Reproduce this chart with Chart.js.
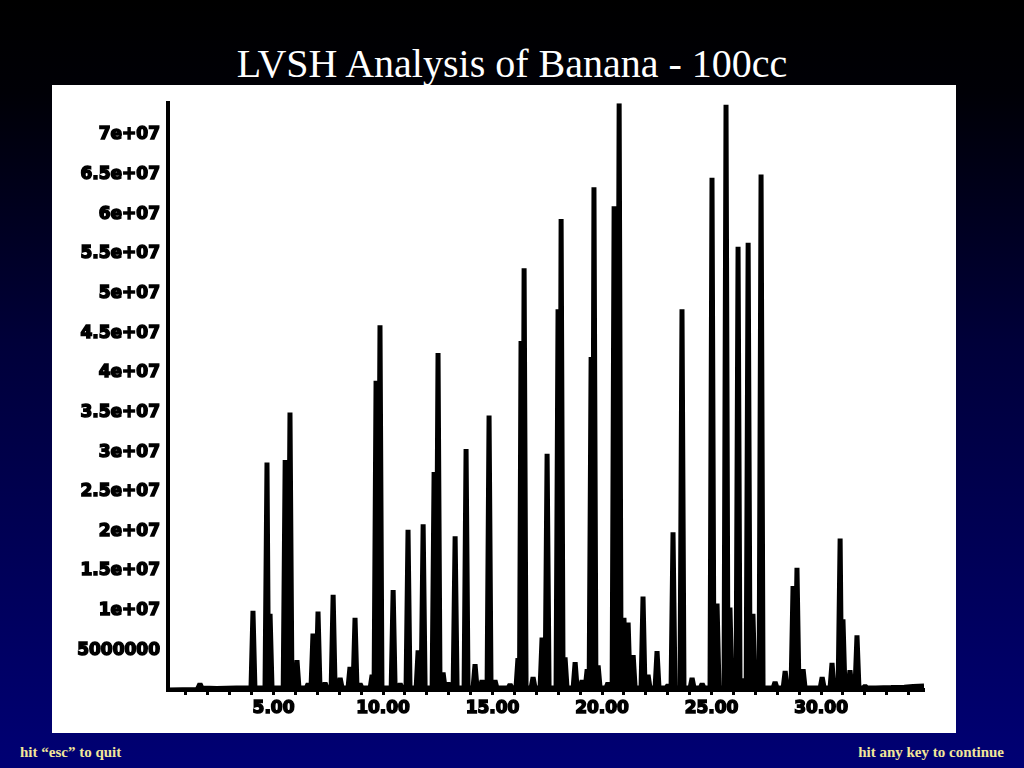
<!DOCTYPE html>
<html>
<head>
<meta charset="utf-8">
<title>LVSH Analysis of Banana - 100cc</title>
<script src="https://cdn.jsdelivr.net/npm/chart.js@4.4.1/dist/chart.umd.min.js"></script>
<style>
  html, body { margin: 0; padding: 0; }
  body {
    width: 1024px; height: 768px; overflow: hidden; position: relative;
    background: linear-gradient(to bottom, #000000 0%, #000006 12%, #00003a 45%, #000074 100%);
    font-family: "Liberation Serif", "Times New Roman", serif;
  }
  #title {
    position: absolute; left: 0; top: 44px; width: 1024px; text-align: center;
    color: #fff; font-size: 40px; line-height: 40px;
  }
  #plot {
    position: absolute; left: 52px; top: 85px; width: 904px; height: 648px; background: #fff;
  }
  .hint {
    position: absolute; top: 745px; font-weight: bold; font-size: 15px; line-height: 15px; color: #f2e79a;
  }
</style>
</head>
<body>
<div id="title">LVSH Analysis of Banana - 100cc</div>
<div id="plot"><canvas id="tic" width="904" height="648"></canvas></div>
<div class="hint" style="left:20px">hit “esc” to quit</div>
<div class="hint" style="right:20px">hit any key to continue</div>

<script>
const peakTimes = [1.64, 4.06, 4.70, 4.84, 5.53, 5.75, 6.07, 6.58, 6.80, 7.03, 7.35, 7.72, 8.04, 8.49, 8.72, 8.95,
  9.50, 9.68, 9.86, 10.46, 10.78, 11.14, 11.60, 11.83, 12.33, 12.51, 12.74, 12.97, 13.29, 13.79, 14.20, 14.52,
  14.84, 15.11, 15.80, 16.16, 16.30, 16.44, 16.85, 17.26, 17.49, 17.99, 18.13, 18.31, 18.77, 19.09, 19.32, 19.50,
  19.63, 19.82, 20.27, 20.55, 20.78, 21.00, 21.19, 21.42, 21.87, 22.10, 22.51, 23.01, 23.24, 23.65, 24.11, 24.57,
  25.02, 25.25, 25.66, 25.84, 26.21, 26.39, 26.67, 26.89, 27.26, 27.90, 28.36, 28.72, 28.90, 29.18, 30.05, 30.50,
  30.87, 31.00, 31.32, 31.64, 32.01];
const peakHeights = [0.8, 10.0, 28.7, 9.6, 29.0, 35.0, 3.75, 0.8, 7.1, 9.9, 0.9, 12.0, 1.5, 2.9, 9.1, 0.8,
  1.9, 39.0, 46.0, 12.6, 0.8, 20.2, 5.0, 20.9, 27.5, 42.5, 2.2, 0.9, 19.4, 30.4, 3.25, 1.2,
  34.6, 1.2, 0.7, 4.0, 44.0, 53.2, 1.6, 6.6, 29.8, 48.0, 59.4, 4.1, 3.5, 1.2, 2.6, 42.0,
  63.4, 3.1, 0.9, 61.0, 74.0, 9.1, 8.5, 4.4, 11.8, 1.9, 4.9, 0.6, 19.9, 48.0, 1.5, 0.8,
  64.6, 10.9, 73.8, 10.4, 55.9, 1.4, 56.4, 9.6, 65.0, 1.0, 2.4, 13.1, 15.4, 2.6, 1.6, 3.4,
  19.1, 8.9, 2.5, 6.9, 0.5];

// Ligne de base (début et dérive en fin de run)
const driftTimes = [0.18, 1.50, 2.40, 3.30, 32.50, 33.20, 33.80, 34.20, 34.70];
const driftLevels = [0.0, 0.05, 0.2, 0.25, 0.25, 0.3, 0.35, 0.45, 0.5];

// Graduations
const minuteTicks = [1, 2, 3, 4, 5, 6, 7, 8, 9, 10, 11, 12, 13, 14, 15, 16, 17, 18, 19, 20, 21, 22, 23, 24, 25,
  26, 27, 28, 29, 30, 31, 32, 33, 34];
const xLabelMinutes = [5, 10, 15, 20, 25, 30];
const xLabels = ['5.00', '10.00', '15.00', '20.00', '25.00', '30.00'];
const yTickValues = [5000000, 10000000, 15000000, 20000000, 25000000, 30000000, 35000000, 40000000,
  45000000, 50000000, 55000000, 60000000, 65000000, 70000000];
const yTickLabels = ['5000000', '1e+07', '1.5e+07', '2e+07', '2.5e+07', '3e+07', '3.5e+07', '4e+07',
  '4.5e+07', '5e+07', '5.5e+07', '6e+07', '6.5e+07', '7e+07'];

const MILLION = 1000000;
const BASE = 0.25;

// Construire la trace : chaque pic = pied, sommet, pied
function buildTrace() {
  const pts = [];
  driftTimes.forEach((t, i) => pts.push({ x: t, y: driftLevels[i] * MILLION }));
  peakTimes.forEach((t, i) => {
    const prev = i > 0 ? peakTimes[i - 1] : t - 1;
    const next = i < peakTimes.length - 1 ? peakTimes[i + 1] : t + 1;
    const wl = Math.min(0.09, (t - prev) / 2);
    const wr = Math.min(0.09, (next - t) / 2);
    pts.push({ x: t - wl, y: BASE * MILLION });
    pts.push({ x: t, y: peakHeights[i] * MILLION });
    pts.push({ x: t + wr, y: BASE * MILLION });
  });
  return pts.sort((a, b) => a.x - b.x);
}

const tickFont = { family: 'DejaVu Sans', weight: 'bold', size: 17 };

window.onload = function () {
  const ctx = document.getElementById('tic').getContext('2d');
  new Chart(ctx, {
    type: 'line',
    data: {
      datasets: [{
        data: buildTrace(),
        borderColor: '#000',
        borderWidth: 5,
        borderJoinStyle: 'bevel',
        pointRadius: 0,
        tension: 0,
        fill: false
      }]
    },
    options: {
      responsive: false,
      animation: false,
      layout: { padding: { top: 13, right: 32, left: 0, bottom: 0 } },
      plugins: { legend: { display: false }, tooltip: { enabled: false } },
      scales: {
        x: {
          type: 'linear',
          min: 0.18,
          max: 34.7,
          afterBuildTicks: s => { s.ticks = minuteTicks.map(v => ({ value: v })); },
          afterFit: s => { s.height = 43; },
          grid: { display: true, drawOnChartArea: false, drawTicks: true, tickLength: 5, tickWidth: 3, color: '#000' },
          border: { display: true, color: '#000', width: 4 },
          ticks: {
            autoSkip: false,
            maxRotation: 0,
            padding: 3,
            color: '#000',
            textStrokeColor: '#000',
            textStrokeWidth: 1.5,
            font: tickFont,
            callback: v => {
              const i = xLabelMinutes.indexOf(v);
              return i < 0 ? '' : xLabels[i];
            }
          }
        },
        y: {
          min: 0,
          max: 74000000,
          afterBuildTicks: s => { s.ticks = yTickValues.map(v => ({ value: v })); },
          afterFit: s => { s.width = 116; },
          grid: { display: false, drawTicks: false },
          border: { display: true, color: '#000', width: 4 },
          ticks: {
            padding: 8,
            color: '#000',
            textStrokeColor: '#000',
            textStrokeWidth: 1.5,
            font: tickFont,
            callback: v => {
              const i = yTickValues.indexOf(v);
              return i < 0 ? '' : yTickLabels[i];
            }
          }
        }
      }
    }
  });
};
</script>
</body>
</html>
